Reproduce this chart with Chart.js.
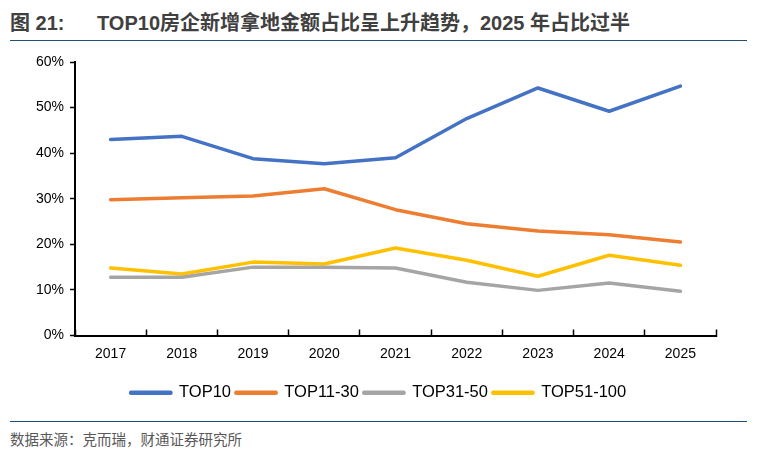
<!DOCTYPE html>
<html>
<head>
<meta charset="utf-8">
<script src="https://cdn.jsdelivr.net/npm/chart.js@4.4.1/dist/chart.umd.min.js"></script>
<style>
  html, body { margin: 0; padding: 0; background: #fff; }
  body { width: 757px; height: 453px; position: relative; overflow: hidden; }
  #title {
    position: absolute; left: 10px; top: 7px; white-space: nowrap;
    font: bold 20px "Liberation Sans", "Noto Sans CJK SC", sans-serif; color: #404040;
  }
  #title .num { display: inline-block; width: 87px; }
  .rule { position: absolute; left: 10px; width: 737px; height: 0; border-top: 1.5px solid #1f4e79; }
  #source {
    position: absolute; left: 10px; top: 428px; white-space: nowrap;
    font: 14.5px "Noto Sans CJK SC", sans-serif; color: #595959;
  }
  #wrap { position: absolute; left: 0; top: 0; width: 757px; height: 453px; }
</style>
</head>
<body>
<div id="title"><span class="num">图 21:</span>TOP10房企新增拿地金额占比呈上升趋势，2025 年占比过半</div>
<div class="rule" style="top:40px"></div>
<div class="rule" style="top:421px"></div>
<div id="source">数据来源：克而瑞，财通证券研究所</div>
<div id="wrap"><canvas id="c" width="757" height="453"></canvas></div>

<script>
/* TOP10 房企拿地金额占比 */

const years = ['2017', '2018', '2019', '2020', '2021', '2022', '2023', '2024', '2025'];

const top10     = [43.0, 43.7, 38.8, 37.7, 39.0, 47.6, 54.3, 49.2, 54.7];
const top11_30  = [29.8, 30.2, 30.6, 32.2, 27.6, 24.5, 22.9, 22.1, 20.5];
const top31_50  = [12.8, 12.8, 15.0, 15.0, 14.8, 11.7, 9.9, 11.5, 9.7];
const top51_100 = [14.8, 13.5, 16.1, 15.7, 19.2, 16.5, 13.0, 17.6, 15.4];

const yTicks = [0, 10, 20, 30, 40, 50, 60];

const FONT = '"Liberation Sans", Arial, sans-serif';

function line(label, data, color) {
  return {
    label,
    data,
    borderColor: color,
    backgroundColor: color,
    borderWidth: 3.5,
    borderJoinStyle: 'round',
    borderCapStyle: 'round',
    pointRadius: 0,
    tension: 0
  };
}

new Chart(document.getElementById('c'), {
  type: 'line',
  data: {
    labels: years,
    datasets: [
      line('TOP10', top10, '#4472C4'),
      line('TOP11-30', top11_30, '#ED7D31'),
      line('TOP31-50', top31_50, '#A5A5A5'),
      line('TOP51-100', top51_100, '#FFC000')
    ]
  },
  options: {
    responsive: false,
    animation: false,
    devicePixelRatio: 1,
    layout: { padding: { top: 62, right: 0, bottom: 42, left: 0 } },
    plugins: {
      tooltip: { enabled: false },
      legend: {
        position: 'bottom',
        labels: {
          boxWidth: 40,
          boxHeight: 1,
          padding: 5,
          color: '#000',
          font: { family: FONT, size: 16.5 }
        }
      }
    },
    scales: {
      x: {
        offset: true,
        afterFit: s => { s.height = 44; },
        grid: {
          offset: true,
          drawOnChartArea: false,
          tickLength: -6,
          tickColor: '#000',
          tickWidth: 1.5
        },
        border: { color: '#000', width: 2 },
        ticks: { color: '#000', padding: 16, font: { family: FONT, size: 14 } }
      },
      y: {
        min: 0,
        max: 60,
        afterFit: s => { s.width = 75; },
        afterBuildTicks: s => { s.ticks = yTicks.map(v => ({ value: v })); },
        grid: { drawOnChartArea: false, tickLength: 5, tickColor: '#000', tickWidth: 1.5 },
        border: { color: '#000', width: 2 },
        ticks: {
          color: '#000',
          padding: 6,
          font: { family: FONT, size: 14 },
          callback: v => v + '%'
        }
      },
      // empty right margin so the legend centres on the whole page
      pad: {
        position: 'right',
        afterFit: s => { s.width = 41; },
        grid: { display: false },
        border: { display: false },
        ticks: { display: false }
      }
    }
  }
});
</script>
</body>
</html>
